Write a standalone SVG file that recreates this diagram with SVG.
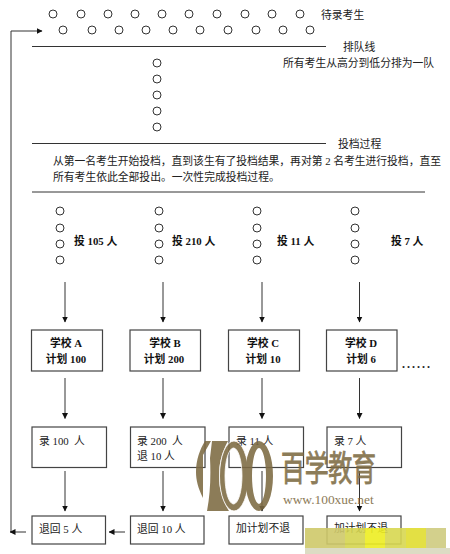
<svg xmlns="http://www.w3.org/2000/svg" width="450" height="554" viewBox="0 0 450 554">
<style>
text{font-family:"Liberation Serif","Noto Sans CJK SC",serif;fill:#222;font-size:10.800px}
.b{font-weight:700;fill:#111}
.m{text-anchor:middle}
circle{fill:#fff;stroke:#333;stroke-width:1}
rect.n{fill:#fff;stroke:#444;stroke-width:1.2}
.c line,.c path{stroke:#333;stroke-width:1;fill:none}
.wm{fill:#7d6a42}
</style>
<defs><marker id="a" markerWidth="6" markerHeight="6" refX="5.500" refY="3" orient="auto" markerUnits="userSpaceOnUse"><path d="M0 0L6 3L0 6Z" fill="#111"/></marker></defs>
<rect width="450" height="554" fill="#fff"/>
<g id="pool">
<circle cx="53" cy="14" r="4"/><circle cx="81" cy="14" r="4"/><circle cx="108" cy="14" r="4"/><circle cx="135" cy="14" r="4"/><circle cx="162" cy="14" r="4"/><circle cx="189" cy="14" r="4"/><circle cx="217" cy="14" r="4"/><circle cx="245" cy="14" r="4"/><circle cx="272" cy="14" r="4"/><circle cx="300" cy="14" r="4"/>
<circle cx="63" cy="30" r="4"/><circle cx="92" cy="30" r="4"/><circle cx="119" cy="30" r="4"/><circle cx="146" cy="30" r="4"/><circle cx="173" cy="30" r="4"/><circle cx="200" cy="30" r="4"/><circle cx="228" cy="30" r="4"/><circle cx="256" cy="30" r="4"/><circle cx="283" cy="30" r="4"/><circle cx="310" cy="30" r="4"/>
<text x="321" y="19">待录考生</text>
</g>
<g id="queue">
<circle cx="157" cy="63" r="4"/><circle cx="157" cy="79" r="4"/><circle cx="157" cy="95" r="4"/><circle cx="157" cy="111" r="4"/><circle cx="157" cy="127" r="4"/>
<text x="343" y="51">排队线</text>
<text x="283" y="67">所有考生从高分到低分排为一队</text>
</g>
<g id="process">
<text x="338" y="148">投档过程</text>
<text x="53" y="165" textLength="388">从第一名考生开始投档，直到该生有了投档结果，再对第 2 名考生进行投档，直至</text>
<text x="53" y="181">所有考生依此全部投出。一次性完成投档过程。</text>
</g>
<g id="col-a"><circle cx="60" cy="211" r="4"/><circle cx="60" cy="228" r="4"/><circle cx="60" cy="244" r="4"/><circle cx="60" cy="260" r="4"/><text class="b" x="74" y="245">投 105 人</text></g>
<g id="col-b"><circle cx="159" cy="211" r="4"/><circle cx="159" cy="228" r="4"/><circle cx="159" cy="244" r="4"/><circle cx="159" cy="260" r="4"/><text class="b" x="172" y="245">投 210 人</text></g>
<g id="col-c"><circle cx="257" cy="211" r="4"/><circle cx="257" cy="228" r="4"/><circle cx="257" cy="244" r="4"/><circle cx="257" cy="260" r="4"/><text class="b" x="277" y="245">投 11 人</text></g>
<g id="col-d"><circle cx="355" cy="211" r="4"/><circle cx="355" cy="228" r="4"/><circle cx="355" cy="244" r="4"/><circle cx="355" cy="260" r="4"/><text class="b" x="391" y="245">投 7 人</text></g>
<g id="school-a"><rect class="n" x="31.500" y="330" width="71" height="41"/><text class="b m" x="66" y="347">学校 A</text><text class="b m" x="66" y="363">计划 100</text></g>
<g id="school-b"><rect class="n" x="130" y="330" width="70.500" height="41"/><text class="b m" x="165" y="347">学校 B</text><text class="b m" x="164" y="363">计划 200</text></g>
<g id="school-c"><rect class="n" x="228.500" y="330" width="71" height="41"/><text class="b m" x="263" y="347">学校 C</text><text class="b m" x="263" y="363">计划 10</text></g>
<g id="school-d"><rect class="n" x="326.500" y="330" width="70.500" height="41"/><text class="b m" x="361" y="347">学校 D</text><text class="b m" x="361" y="363">计划 6</text></g>
<text x="402" y="368" style="font-size:12px;font-weight:700;letter-spacing:2px">......</text>
<g id="admit-a"><rect class="n" x="32" y="427" width="74.500" height="40.500"/><text x="39" y="445" xml:space="preserve">录 100  人</text></g>
<g id="admit-b"><rect class="n" x="130.500" y="427" width="74.500" height="40.500"/><text x="137" y="445" xml:space="preserve">录 200  人</text><text x="137" y="460">退 10 人</text></g>
<g id="admit-c"><rect class="n" x="229" y="427" width="74.500" height="40.500"/><text x="236" y="445">录 11 人</text></g>
<g id="admit-d"><rect class="n" x="327" y="427" width="74.500" height="40.500"/><text x="334" y="445">录 7 人</text></g>
<g id="return-a"><rect class="n" x="32" y="516" width="73.500" height="28"/><text x="39" y="533">退回 5 人</text></g>
<g id="return-b"><rect class="n" x="130.500" y="516" width="73.500" height="28"/><text x="137" y="533">退回 10 人</text></g>
<g id="extra-c"><rect class="n" x="229" y="516" width="74" height="28"/><text x="236" y="532">加计划不退</text></g>
<g id="extra-d"><rect class="n" x="327" y="516" width="74" height="28"/><text x="334" y="532">加计划不退</text></g>
<g class="c" id="connectors">
<line x1="32" y1="46.500" x2="326" y2="46.500"/><line x1="32" y1="143.500" x2="326" y2="143.500"/><line x1="32" y1="192" x2="425" y2="192"/>
<path d="M11 532V31H42" marker-end="url(#a)"/>
<line x1="65" y1="282" x2="65" y2="322" marker-end="url(#a)"/><line x1="163" y1="282" x2="163" y2="322" marker-end="url(#a)"/><line x1="262" y1="282" x2="262" y2="322" marker-end="url(#a)"/><line x1="359.500" y1="282" x2="359.500" y2="322" marker-end="url(#a)"/>
<line x1="65" y1="378" x2="65" y2="418.500" marker-end="url(#a)"/><line x1="163" y1="378" x2="163" y2="418.500" marker-end="url(#a)"/><line x1="262" y1="378" x2="262" y2="418.500" marker-end="url(#a)"/><line x1="359.500" y1="378" x2="359.500" y2="418.500" marker-end="url(#a)"/>
<line x1="65" y1="471" x2="65" y2="511" marker-end="url(#a)"/><line x1="163" y1="471" x2="163" y2="511" marker-end="url(#a)"/><line x1="262" y1="471" x2="262" y2="511" marker-end="url(#a)"/><line x1="359.500" y1="471" x2="359.500" y2="511" marker-end="url(#a)"/>
<line x1="125" y1="532" x2="109" y2="532" marker-end="url(#a)"/><line x1="26" y1="532" x2="10" y2="532" marker-end="url(#a)"/>
</g>
<g id="watermark" opacity=".88">
<path class="wm" d="M205 441H211L203 455L203 498C198 488 196 480 196 472C196 460 200 449 205 441Z"/>
<path class="wm" d="M212 441H228C222 452 219 462 219 476C219 490 223 502 229 511H207C210 495 211 478 210 458Z"/>
<path class="wm" fill-rule="evenodd" stroke="#fff" stroke-width=".8" d="M234 441A14.500 35 0 1 1 234 511A14.500 35 0 1 1 234 441ZM233.500 448A8.500 28 0 1 0 233.500 504A8.500 28 0 1 0 233.500 448Z"/>
<path class="wm" fill-rule="evenodd" d="M259 441A14 35 0 1 1 259 511A14 35 0 1 1 259 441ZM259 448A7 28 0 1 0 259 504A7 28 0 1 0 259 448Z"/>
<text transform="translate(281 481) scale(1 1.45)" style="font-size:24px;fill:#7d6a42;stroke:#7d6a42;stroke-width:.6px;font-family:'Noto Sans CJK SC',serif" textLength="95">百学教育</text>
<text x="283" y="504" style="font-size:13.400px;fill:#7d6a42">www.100xue.net</text>
</g>
<g id="mosaic">
<g opacity=".9"><rect x="305" y="528" width="40" height="20" fill="#cfc96a"/><rect x="345" y="528" width="20" height="20" fill="#d5d550"/><rect x="365" y="528" width="20" height="20" fill="#eeee22"/><rect x="385" y="528" width="21" height="20" fill="#d8d850"/><rect x="406" y="528" width="20" height="20" fill="#e0dd30"/><rect x="426" y="528" width="20" height="20" fill="#cfcc80"/></g>
<rect x="305" y="548" width="145" height="6" fill="#dcdcc4"/>
</g>
</svg>
